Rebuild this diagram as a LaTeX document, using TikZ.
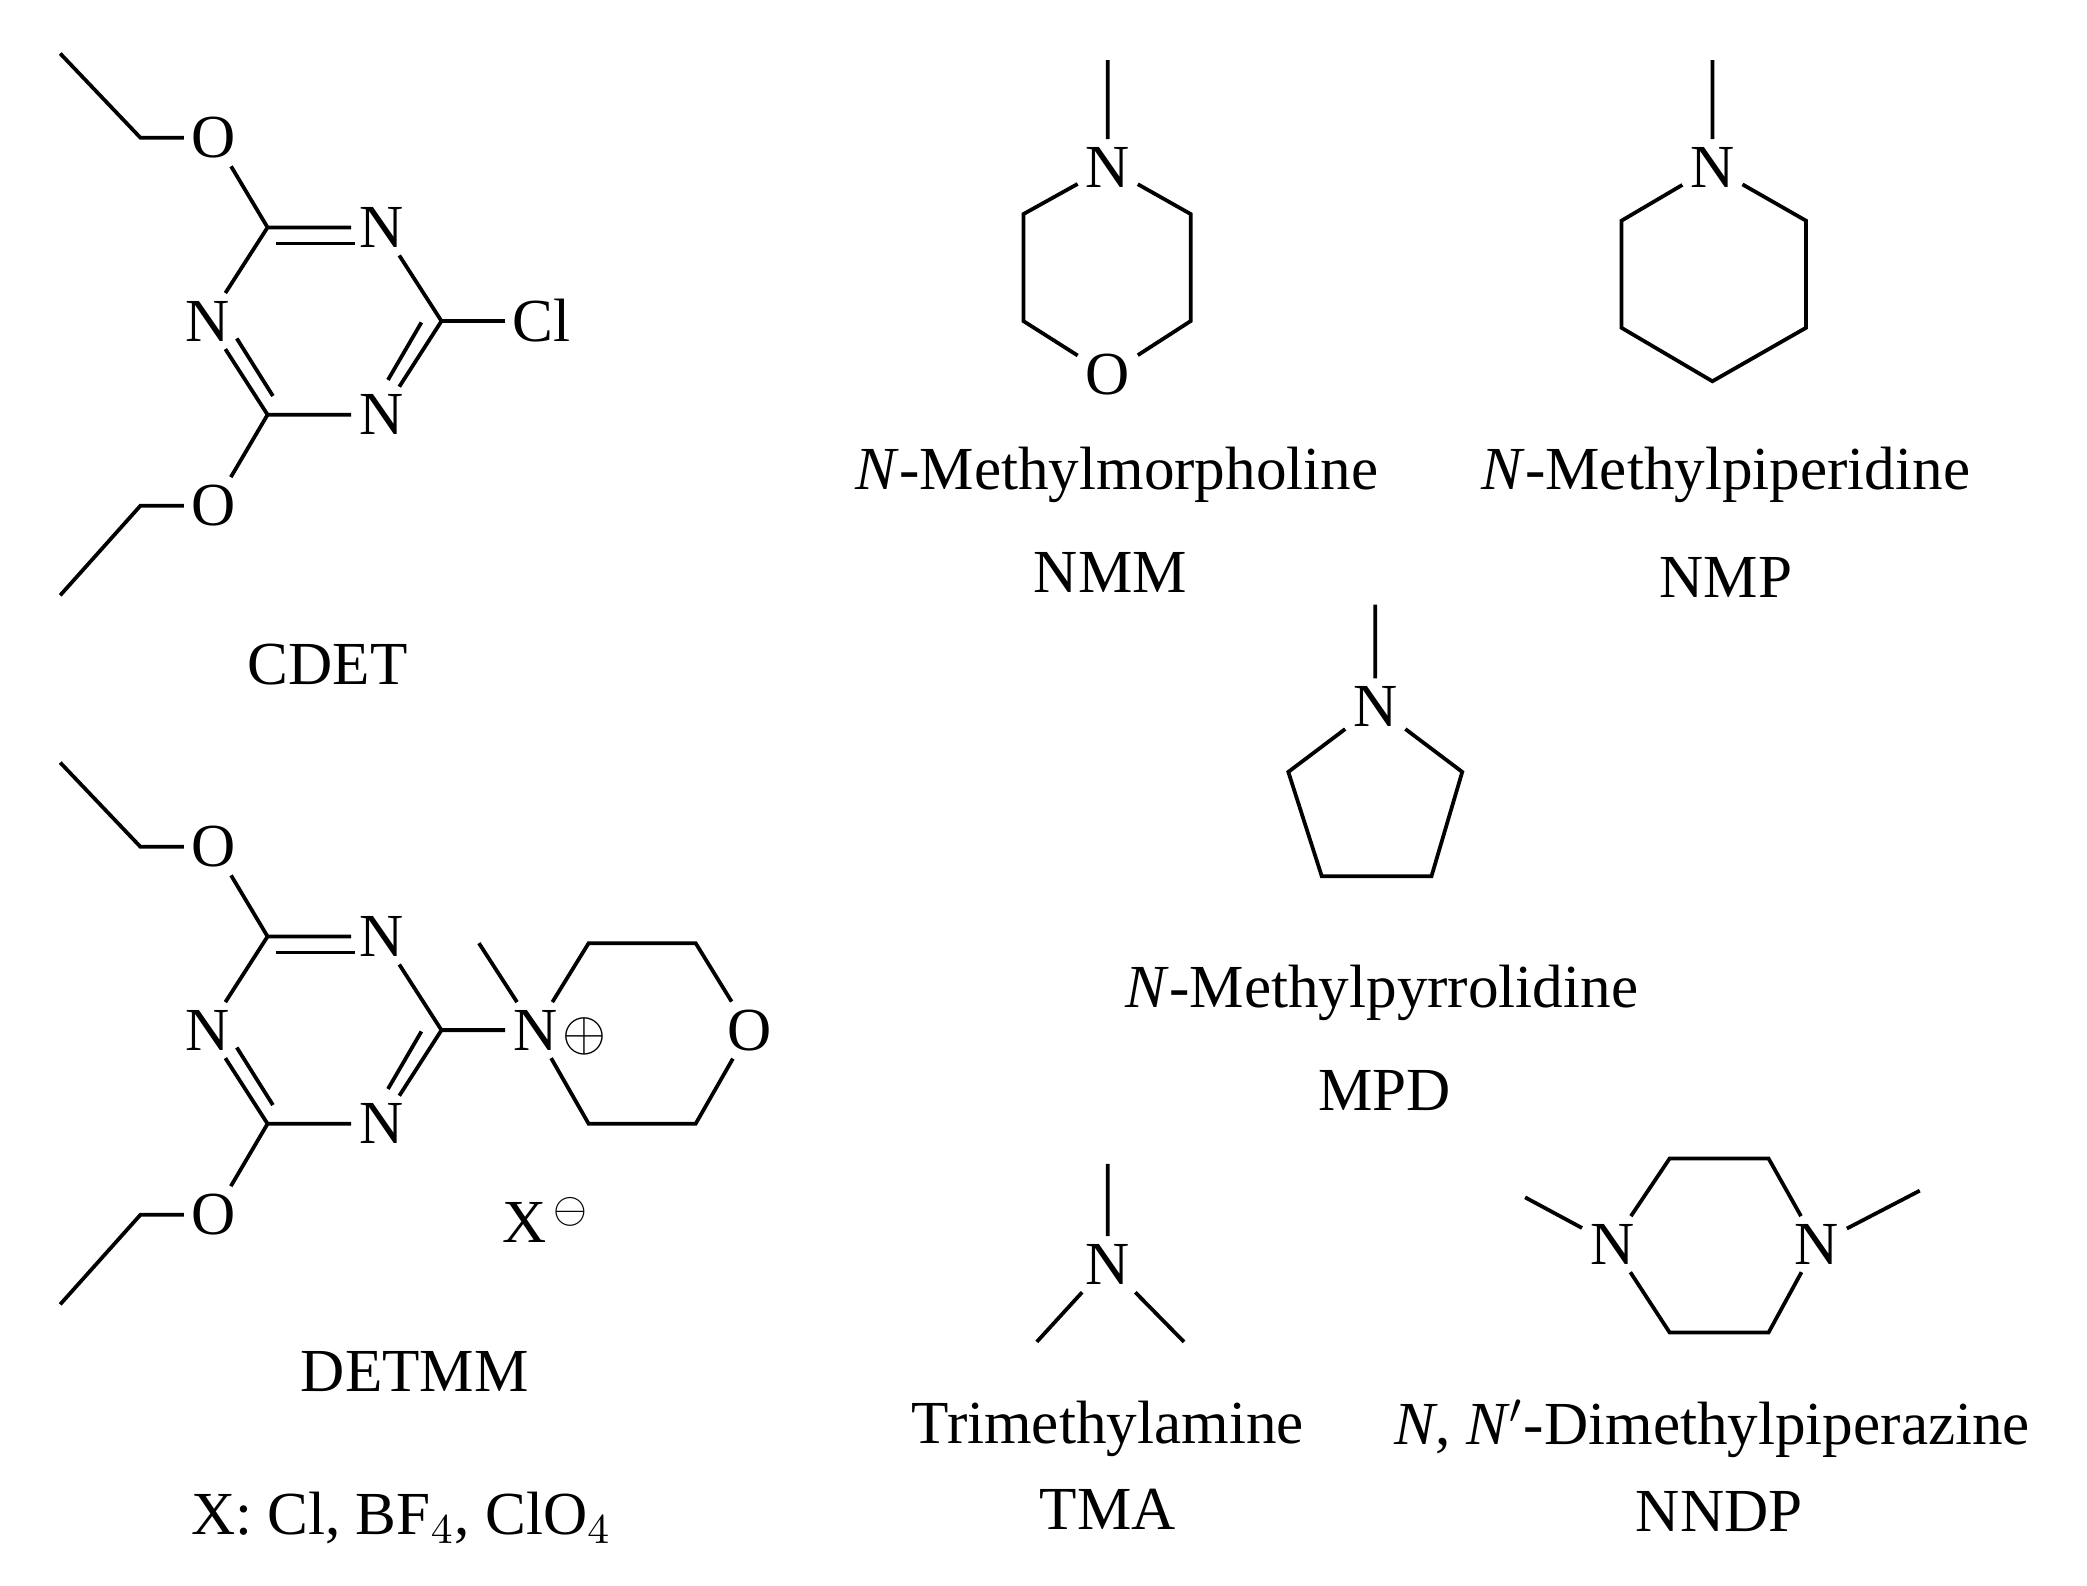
\documentclass[tikz,border=0pt]{standalone}
\usepackage{fontspec}
\setmainfont{Liberation Serif}
\usetikzlibrary{calc}
\tikzset{atom/.style={inner sep=1.5pt,font=\fontsize{13}{15}\selectfont},
lbl/.style={inner sep=0pt,font=\fontsize{13}{15}\selectfont},
bond/.style={line width=0.8pt}}
\newcommand\mytriazine[1]{%
 \node[atom] (#1ot) at (160,103) {O};
 \node[atom] (#1ob) at (160,378) {O};
 \coordinate (#1c1) at (200,170);
 \node[atom] (#1n1) at (285,170) {N};
 \coordinate (#1c2) at (330,240);
 \node[atom] (#1n2) at (285,310) {N};
 \coordinate (#1c3) at (200,310);
 \node[atom] (#1n3) at (155,240) {N};
 \coordinate (#1e1) at (105,103); \coordinate (#1e2) at (45,40);
 \coordinate (#1e3) at (105,378); \coordinate (#1e4) at (45,445);
 \draw[bond] (#1e2)--(#1e1)--(#1ot)--(#1c1)--(#1n1)--(#1c2)--(#1n2)--(#1c3)--(#1n3)--(#1c1);
 \draw[bond] (#1e4)--(#1e3)--(#1ob)--(#1c3);
 \draw[bond] ($(#1c1)+(6,12)$)--($(#1n1)+(-20,12)$);
 \draw[bond] ($(#1n3)+(22,13)$)--($(#1c3)+(4,-14)$);
 \draw[bond] ($(#1c2)+(-15,1)$)--($(#1n2)+(5,-26)$);
}
\begin{document}
\begin{tikzpicture}[x=0.01cm,y=-0.01cm]
\useasboundingbox (0,0) rectangle (1560,1185);
% CDET
\mytriazine{a}
\node[atom] (acl) at (405,240) {Cl};
\draw[bond] (ac2)--(acl);
\node[lbl] (cdet) at (245,497) {CDET};
% DETMM
\begin{scope}[shift={(0,530)}]
\mytriazine{b}
\node[atom] (bnp) at (400,240) {N};
\node[atom,font=\fontsize{12}{14}\selectfont] at (437,245) {$\oplus$};
\coordinate (bme) at (358,175);
\coordinate (bm1) at (440,175); \coordinate (bm2) at (520,175);
\node[atom] (bmo) at (560,240) {O};
\coordinate (bm3) at (520,310); \coordinate (bm4) at (440,310);
\draw[bond] (bc2)--(bnp)--(bme);
\draw[bond] (bnp)--(bm1)--(bm2)--(bmo)--(bm3)--(bm4)--(bnp);
\node[lbl] (bx) at (408,382) {X$^{\,\ominus}$};
\node[lbl] (detmm) at (310,495) {DETMM};
\node[lbl] (xlist) at (300,605) {X: Cl, BF$_4$, ClO$_4$};
\end{scope}
% NMM
\node[atom] (mn) at (828,125) {N};
\coordinate (mme) at (828,45);
\coordinate (m1) at (890,160); \coordinate (m2) at (890,240);
\node[atom] (mo) at (828,280) {O};
\coordinate (m3) at (765,240); \coordinate (m4) at (765,160);
\draw[bond] (mme)--(mn)--(m1)--(m2)--(mo)--(m3)--(m4)--(mn);
\node[lbl] (nmmname) at (835,355) {\textit{N}-Methylmorpholine};
\node[lbl] (nmm) at (830,428) {NMM};
% NMP
\node[atom] (pn) at (1280,125) {N};
\coordinate (pme) at (1280,45);
\coordinate (p1) at (1350,165); \coordinate (p2) at (1350,245);
\coordinate (p3) at (1280,285);
\coordinate (p4) at (1212,245); \coordinate (p5) at (1212,165);
\draw[bond] (pme)--(pn)--(p1)--(p2)--(p3)--(p4)--(p5)--(pn);
\node[lbl] (nmpname) at (1290,355) {\textit{N}-Methylpiperidine};
\node[lbl] (nmp) at (1290,432) {NMP};
% MPD
\node[atom] (rn) at (1028,528) {N};
\coordinate (rme) at (1028,452);
\coordinate (r1) at (1093,577); \coordinate (r2) at (1070,655);
\coordinate (r3) at (988,655); \coordinate (r4) at (963,577);
\draw[bond] (rme)--(rn)--(r1)--(r2)--(r3)--(r4)--(rn);
\node[lbl] (mpdname) at (1033,742) {\textit{N}-Methylpyrrolidine};
\node[lbl] (mpd) at (1035,815) {MPD};
% TMA
\node[atom] (tn) at (828,945) {N};
\coordinate (t1) at (828,870); \coordinate (t2) at (775,1003); \coordinate (t3) at (885,1003);
\draw[bond] (t1)--(tn)--(t2); \draw[bond] (tn)--(t3);
\node[lbl] (tmaname) at (828,1068) {Trimethylamine};
\node[lbl] (tma) at (828,1128) {TMA};
% NNDP
\node[atom] (dn1) at (1205,930) {N};
\node[atom] (dn2) at (1358,930) {N};
\coordinate (d1) at (1248,866); \coordinate (d2) at (1322,866);
\coordinate (d3) at (1322,996); \coordinate (d4) at (1248,996);
\coordinate (dm1) at (1140,895); \coordinate (dm2) at (1435,890);
\draw[bond] (dm1)--(dn1)--(d1)--(d2)--(dn2)--(d3)--(d4)--(dn1);
\draw[bond] (dn2)--(dm2);
\node[lbl] (nndpname) at (1280,1068) {\textit{N}, \textit{N}$'$-Dimethylpiperazine};
\node[lbl] (nndp) at (1285,1130) {NNDP};
\end{tikzpicture}
\end{document}
